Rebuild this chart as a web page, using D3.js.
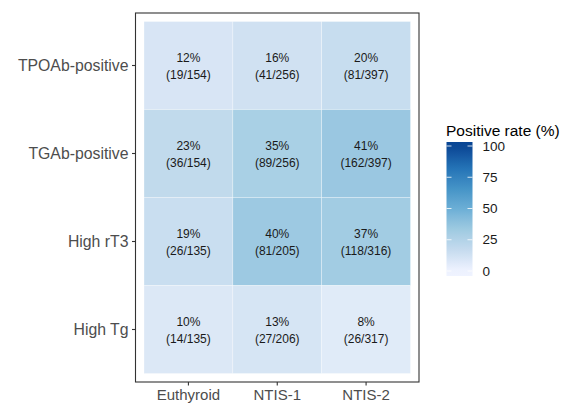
<!DOCTYPE html>
<html>
<head>
<meta charset="utf-8">
<script src="https://cdn.jsdelivr.net/npm/d3@7"></script>
<style>
  body { margin: 0; background: #fff; }
  svg { font-family: "Liberation Sans", Arial, sans-serif; }
</style>
</head>
<body>
<svg id="chart" width="579" height="403"></svg>
<script>
// Data
var groups = ['Euthyroid', 'NTIS-1', 'NTIS-2'];
var markers = ['TPOAb-positive', 'TGAb-positive', 'High rT3', 'High Tg'];
var positives = [
    [19, 41, 81],
    [36, 89, 162],
    [26, 81, 118],
    [14, 27, 26]
];
var totals = [
    [154, 256, 397],
    [154, 256, 397],
    [135, 205, 316],
    [135, 206, 317]
];
var legendTicks = [0, 25, 50, 75, 100];
var blues = ['#EFF3FF', '#C6DBEF', '#9ECAE1', '#6BAED6', '#4292C6', '#2171B5', '#084594'];

var svg = d3.select('#chart');

// Panel geometry
var panel = {left: 135.5, right: 419, top: 13, bottom: 382};
var pad = 8.5;

var xScale = d3.scaleBand().domain(groups)
                           .range([panel.left + pad, panel.right - pad])
                           .padding(0);
var yScale = d3.scaleBand().domain(markers)
                           .range([panel.top + pad, panel.bottom - pad])
                           .padding(0);
var color = d3.scaleLinear().domain(blues.map((c, i) => i * 100 / (blues.length - 1)))
                            .range(blues)
                            .interpolate(d3.interpolateLab);

var cells = [];
markers.forEach(function(m, i) {
    groups.forEach(function(g, j) {
        cells.push({row: m, col: g, n: positives[i][j], total: totals[i][j],
                    rate: 100 * positives[i][j] / totals[i][j]});
    });
});

// Tiles
var tiles = svg.append('g').selectAll('g').data(cells).enter().append('g');
tiles.append('rect')
     .attr('x', (d) => xScale(d.col))
     .attr('y', (d) => yScale(d.row))
     .attr('width', xScale.bandwidth())
     .attr('height', yScale.bandwidth())
     .attr('fill', (d) => color(d.rate))
     .attr('fill-opacity', 0.85)
     .attr('stroke', 'white')
     .attr('stroke-opacity', 0.5)
     .attr('stroke-width', 0.6);
tiles.append('text')
     .attr('x', (d) => xScale(d.col) + xScale.bandwidth() / 2)
     .attr('y', (d) => yScale(d.row) + yScale.bandwidth() / 2 - 3.5)
     .attr('text-anchor', 'middle')
     .attr('font-size', 12)
     .attr('fill', '#1a1a1a')
     .text((d) => Math.round(d.rate) + '%');
tiles.append('text')
     .attr('x', (d) => xScale(d.col) + xScale.bandwidth() / 2)
     .attr('y', (d) => yScale(d.row) + yScale.bandwidth() / 2 + 13)
     .attr('text-anchor', 'middle')
     .attr('font-size', 12)
     .attr('fill', '#1a1a1a')
     .text((d) => '(' + d.n + '/' + d.total + ')');

// Panel border
svg.append('rect')
   .attr('x', panel.left).attr('y', panel.top)
   .attr('width', panel.right - panel.left)
   .attr('height', panel.bottom - panel.top)
   .attr('fill', 'none').attr('stroke', '#333333').attr('stroke-width', 1.1);

// Axes
var xAxis = svg.append('g').attr('transform', 'translate(0,' + panel.bottom + ')')
               .call(d3.axisBottom(xScale).tickSize(3.5).tickPadding(3.5));
var yAxis = svg.append('g').attr('transform', 'translate(' + panel.left + ',0)')
               .call(d3.axisLeft(yScale).tickSize(3.5).tickPadding(3.5));
xAxis.selectAll('.tick text').attr('font-size', 15);
yAxis.selectAll('.tick text').attr('font-size', 15.8);
[xAxis, yAxis].forEach(function(a) {
    a.select('.domain').remove();
    a.selectAll('.tick line').attr('stroke', '#333333').attr('stroke-width', 1.1);
    a.selectAll('.tick text').attr('fill', '#4d4d4d')
     .attr('font-family', '"Liberation Sans", Arial, sans-serif');
});

// Legend
var bar = {x: 446.5, w: 26, top: 142, bottom: 276};
var lScale = d3.scaleLinear().domain([0, 100]).range([bar.bottom - 5, bar.top + 4]);
var defs = svg.append('defs');
var grad = defs.append('linearGradient').attr('id', 'grad')
               .attr('x1', 0).attr('y1', 1).attr('x2', 0).attr('y2', 0);
d3.range(0, 1.0001, 0.05).forEach(function(t) {
    var v = lScale.invert(bar.bottom - t * (bar.bottom - bar.top));
    grad.append('stop').attr('offset', t).attr('stop-color', color(Math.max(0, Math.min(100, v))));
});
var legend = svg.append('g');
legend.append('text').attr('x', bar.x - 0.5).attr('y', 136)
      .attr('font-size', 15.5).attr('fill', '#000').text('Positive rate (%)');
legend.append('rect').attr('x', bar.x).attr('y', bar.top)
      .attr('width', bar.w).attr('height', bar.bottom - bar.top)
      .attr('fill', 'url(#grad)');
legend.selectAll('line.l').data(legendTicks).enter().append('line')
      .attr('x1', bar.x).attr('x2', bar.x + 5)
      .attr('y1', (d) => lScale(d)).attr('y2', (d) => lScale(d))
      .attr('stroke', 'white').attr('stroke-width', 0.8);
legend.selectAll('line.r').data(legendTicks).enter().append('line')
      .attr('x1', bar.x + bar.w - 5).attr('x2', bar.x + bar.w)
      .attr('y1', (d) => lScale(d)).attr('y2', (d) => lScale(d))
      .attr('stroke', 'white').attr('stroke-width', 0.8);
legend.selectAll('text.tk').data(legendTicks).enter().append('text')
      .attr('x', bar.x + bar.w + 10)
      .attr('y', (d) => lScale(d))
      .attr('dy', '0.35em')
      .attr('font-size', 13.5).attr('fill', '#1a1a1a')
      .text((d) => d);
</script>
</body>
</html>
